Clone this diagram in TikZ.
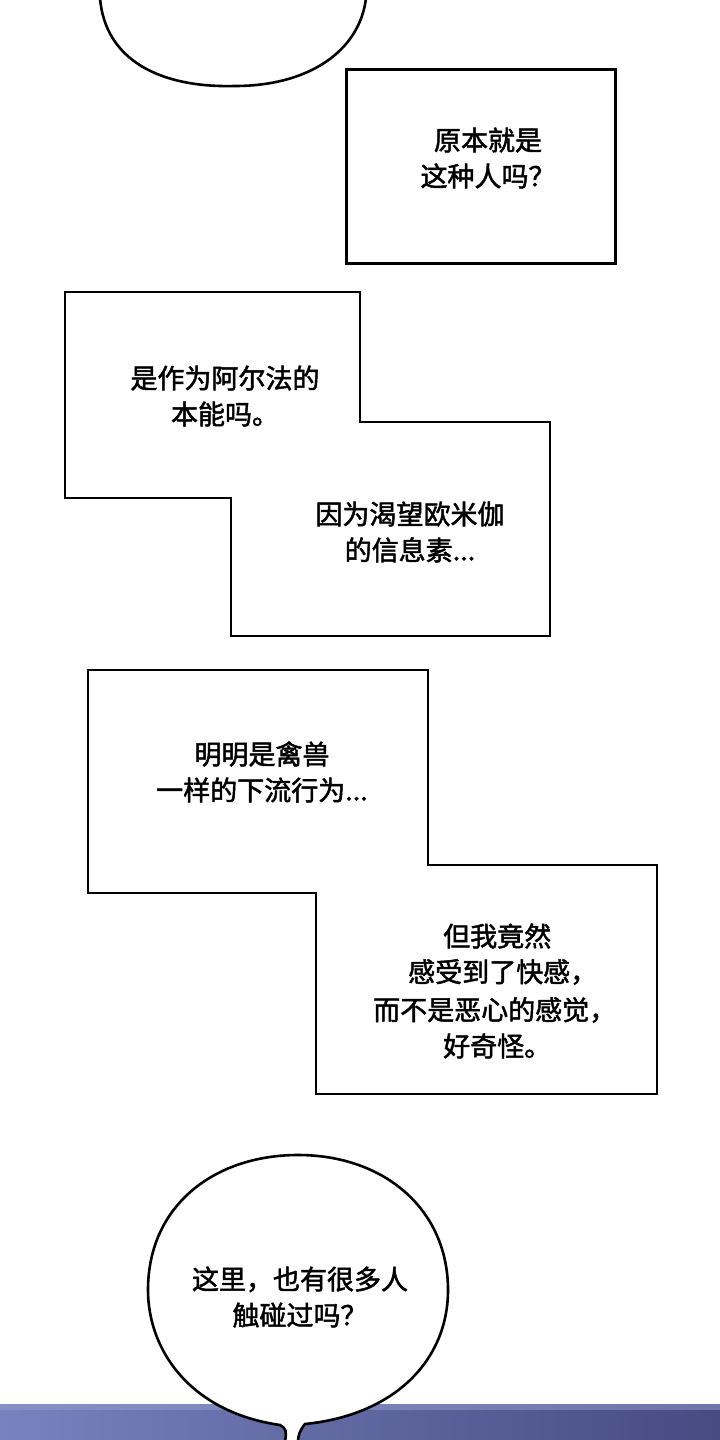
\documentclass[tikz,border=0pt]{standalone}
\usepackage{fontspec}
\newfontfamily\cjk[FakeBold=1.8]{Noto Sans CJK SC}
\definecolor{bandL}{RGB}{120,130,190}
\definecolor{bandR}{RGB}{70,75,130}
\definecolor{bandT}{RGB}{150,160,210}
\begin{document}
\begin{tikzpicture}[x=1pt,y=-1pt,
  panel/.style={draw=black,line width=2.6pt,fill=white,line join=miter},
  txt/.style={font=\cjk\fontsize{27}{36}\selectfont,align=center,text=black,inner sep=0pt}]
\useasboundingbox (0,0) rectangle (720,1440);
\fill[white] (0,0) rectangle (720,1440);
% bottom band
\shade[left color=bandL,right color=bandR] (0,1404) rectangle (720,1440);
\fill[bandT,opacity=0.5] (0,1404) rectangle (720,1410);
% top bubble
\draw[line width=2.6pt] (100,-2) .. controls (105,60) and (160,88) .. (235,86) .. controls (310,86) and (360,50) .. (366,-2);
% box 1
\node[panel,minimum width=269pt,minimum height=194pt,anchor=north west] (b1) at (345,68) {};
\node[txt] (t1) at (488,158) {原本就是\\这种人吗？};
% shape 2
\draw[panel] (65,292) -- (360,292) -- (360,422) -- (550,422) -- (550,636) -- (231,636) -- (231,498) -- (65,498) -- cycle;
\node[txt] (t2) at (225,396) {是作为阿尔法的\\本能吗。};
\node[txt] (t3) at (410,532) {因为渴望欧米伽\\的信息素...};
% shape 3
\draw[panel] (88,670) -- (428,670) -- (428,865) -- (657,865) -- (657,1094) -- (316,1094) -- (316,893) -- (88,893) -- cycle;
\node[txt] (t4) at (262,772) {明明是禽兽\\一样的下流行为...};
\node[txt,anchor=west] (t5a) at (443,936) {但我竟然};
\node[txt,anchor=west] (t5b) at (408,972) {感受到了快感，};
\node[txt,anchor=west] (t5c) at (373,1010) {而不是恶心的感觉，};
\node[txt,anchor=west] (t5d) at (443,1046) {好奇怪。};
% bottom bubble
\draw[panel] (285,1441) .. controls (287,1432) and (286,1428) .. (280,1425)
  .. controls (190,1412) and (148,1350) .. (148,1290)
  .. controls (148,1205) and (215,1155) .. (298,1155)
  .. controls (385,1155) and (448,1210) .. (448,1290)
  .. controls (448,1360) and (395,1415) .. (305,1424)
  .. controls (300,1430) and (298,1436) .. (298,1441);
\node[txt] (t6) at (300,1297) {这里，也有很多人\\触碰过吗？};
\end{tikzpicture}
\end{document}
